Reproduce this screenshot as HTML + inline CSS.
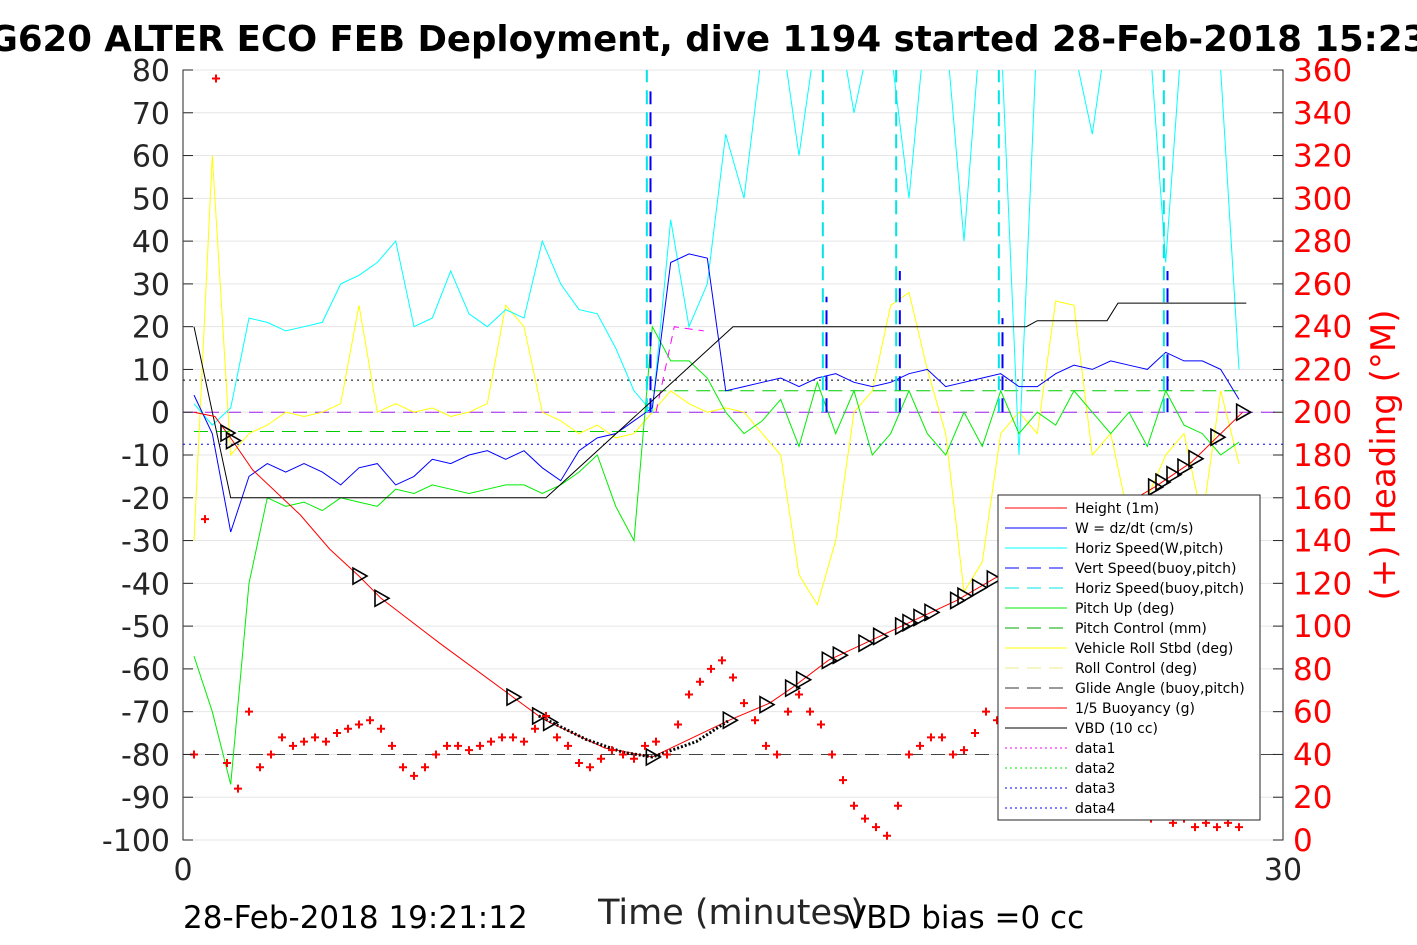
<!DOCTYPE html>
<html><head><meta charset="utf-8">
<style>
body{margin:0;background:#fff;width:1417px;height:945px;overflow:hidden;font-family:"DejaVu Sans","Liberation Sans",sans-serif;}
svg{display:block}
</style></head>
<body>
<svg id="chart" width="1417" height="945" xmlns="http://www.w3.org/2000/svg">
<defs><clipPath id="plotclip"><rect x="183" y="70" width="1100" height="770"/></clipPath></defs>
<text x="708" y="51" text-anchor="middle" font-size="35.5" font-weight="bold" fill="#000">G620 ALTER ECO FEB Deployment, dive 1194 started 28-Feb-2018 15:23</text>
<rect x="183" y="70" width="1100" height="770" fill="#fff" stroke="#262626" stroke-width="1"/>
<g id="grid"></g>
<g id="series" clip-path="url(#plotclip)"></g>
<g id="axes"></g>
<text x="731" y="924" text-anchor="middle" font-size="35" fill="#262626">Time (minutes)</text>
<text x="183" y="928" font-size="31" fill="#000">28-Feb-2018 19:21:12</text>
<text x="845" y="928" font-size="31" fill="#000">VBD bias =0 cc</text>
<text transform="translate(1395,455) rotate(-90)" text-anchor="middle" font-size="34" fill="#ff0000">(+) Heading (°M)</text>
<g id="legend"></g>
</svg>
<script>
// ---- data ----
const leftTicks=[80,70,60,50,40,30,20,10,0,-10,-20,-30,-40,-50,-60,-70,-80,-90,-100];
const rightTicks=[360,340,320,300,280,260,240,220,200,180,160,140,120,100,80,60,40,20,0];
const xTicks=[0,30];
const heightT=[0.3,0.87,1.34,1.9,3.2,4.0,4.8,5.4,7.0,9.0,9.7,10.0,11.5,12.8,14.9,16.0,16.6,17.6,18.6,19.6,21.1,22.1,24.0,26.5,27.5,28.9];
const heightV=[0,-1,-6.5,-13.5,-24,-32,-38.3,-43.5,-54,-66.6,-71,-72.5,-78.5,-80.6,-72,-68,-64.5,-58,-54,-50,-44,-39,-30,-17.5,-11.7,0];
const markT=[1.2,1.35,4.8,5.4,9.0,9.7,10.0,12.8,14.9,15.9,16.6,16.9,17.6,17.9,18.6,19.0,19.6,19.8,20.1,20.4,21.1,21.3,21.7,22.1,26.5,26.7,27.0,27.3,27.6,28.2,28.9];
const gridT=[0.3,0.8,1.3,1.8,2.3,2.8,3.3,3.8,4.3,4.8,5.3,5.8,6.3,6.8,7.3,7.8,8.3,8.8,9.3,9.8,10.3,10.8,11.3,11.8,12.3,12.8,13.3,13.8,14.3,14.8,15.3,15.8,16.3,16.8,17.3,17.8,18.3,18.8,19.3,19.8,20.3,20.8,21.3,21.8,22.3,22.8,23.3,23.8,24.3,24.8,25.3,25.8,26.3,26.8,27.3,27.8,28.3,28.8];
const wV=[4,-5,-28,-15,-12,-14,-12,-14,-17,-13,-12,-17,-15,-11,-12,-10,-9,-11,-9,-13,-16,-9,-6,-5,-2,1,35,37,36,5,6,7,8,6,8,9,7,6,7,9,10,6,7,8,9,6,6,9,11,10,12,11,10,14,12,12,10,3];
const hsV=[2,-3,1,22,21,19,20,21,30,32,35,40,20,22,33,23,20,24,22,40,30,24,23,15,5,0,45,20,30,65,50,85,90,60,90,95,70,90,85,50,95,90,40,95,90,-10,90,95,85,65,95,90,95,35,95,90,80,10];
const pitchV=[-57,-70,-87,-40,-20,-22,-21,-23,-20,-21,-22,-18,-19,-17,-18,-19,-18,-17,-17,-19,-17,-14,-10,-22,-30,20,12,12,8,0,-5,-2,3,-8,7,-5,5,-10,-5,5,-5,-10,0,-8,5,-5,0,-3,5,0,-5,0,-8,5,-3,-5,-10,-7];
const rollV=[-30,60,-10,-5,-3,0,-1,0,2,25,0,2,0,1,-1,0,2,25,20,0,-2,-5,-3,-6,-5,0,5,2,0,1,0,-5,-10,-38,-45,-30,0,5,25,28,10,-5,-42,-35,-5,0,-5,26,25,-10,-5,-25,-20,-10,-5,-25,5,-12];
const vbdT=[0.3,1.3,9.9,15.0,20.7,21.0,23.0,23.3,25.2,25.5,29.0];
const vbdV=[20,-20,-20,20,20,20,20,21.4,21.4,25.5,25.5];
const buoyT=[0.3,0.6,0.9,1.2,1.5,1.8,2.1,2.4,2.7,3.0,3.3,3.6,3.9,4.2,4.5,4.8,5.1,5.4,5.7,6.0,6.3,6.6,6.9,7.2,7.5,7.8,8.1,8.4,8.7,9.0,9.3,9.6,9.9,10.2,10.5,10.8,11.1,11.4,11.7,12.0,12.3,12.6,12.9,13.2,13.5,13.8,14.1,14.4,14.7,15.0,15.3,15.6,15.9,16.2,16.5,16.8,17.1,17.4,17.7,18.0,18.3,18.6,18.9,19.2,19.5,19.8,20.1,20.4,20.7,21.0,21.3,21.6,21.9,22.2,22.5,22.8,23.1,23.4,23.7,24.0,24.3,24.6,24.9,25.2,25.5,25.8,26.1,26.4,26.7,27.0,27.3,27.6,27.9,28.2,28.5,28.8];
const buoyV=[-80,-25,78,-82,-88,-70,-83,-80,-76,-78,-77,-76,-77,-75,-74,-73,-72,-74,-78,-83,-85,-83,-80,-78,-78,-79,-78,-77,-76,-76,-77,-74,-71,-76,-78,-82,-83,-81,-79,-80,-81,-78,-77,-80,-73,-66,-63,-60,-58,-62,-68,-72,-78,-80,-70,-66,-70,-73,-80,-86,-92,-95,-97,-99,-92,-80,-78,-76,-76,-80,-79,-75,-70,-72,-78,-86,-88,-80,-75,-77,-80,-82,-85,-88,-90,-92,-94,-95,-93,-96,-95,-97,-96,-97,-96,-97];
const spikeT=[12.75,17.55,19.55,22.35,26.85];
const spikeTop=[75,27,33,22,33];
const hSpikeT=[12.65,17.45,19.45,22.25,26.75];

// ---- scales ----
const X=t=>183+t*1100/30;
const Y=v=>840-(v+100)*770/180;
const YR=h=>840-h*770/360;
const NS="http://www.w3.org/2000/svg";
function mk(tag,parent,attrs){const e=document.createElementNS(NS,tag);for(const k in attrs)e.setAttribute(k,attrs[k]);parent.appendChild(e);return e;}
const grid=document.getElementById('grid'),ser=document.getElementById('series'),axes=document.getElementById('axes'),leg=document.getElementById('legend');

leftTicks.forEach(v=>{
  const g=mk('line',grid,{x1:183,x2:1283,y1:Y(v),y2:Y(v),stroke:'#e6e6e6','stroke-width':1});
  
  
  const t=mk('text',axes,{x:170,y:Y(v)+11,'text-anchor':'end','font-size':30,fill:'#262626'});
  t.textContent=v;
  
  
  mk('line',axes,{x1:183,x2:193,y1:Y(v),y2:Y(v),stroke:'#262626'});
});
rightTicks.forEach(h=>{
  const t=mk('text',axes,{x:1293,y:YR(h)+11,'font-size':31,fill:'#ff0000'});
  t.textContent=h;
  
  
  mk('line',axes,{x1:1273,x2:1283,y1:YR(h),y2:YR(h),stroke:'#262626'});
});
xTicks.forEach(v=>{
  const t=mk('text',axes,{x:X(v),y:880,'text-anchor':'middle','font-size':30,fill:'#262626'});
  t.textContent=v;
  
  
});

function line(ts,vs,color,name,extra){
  const d=ts.map((t,i)=>(i?'L':'M')+X(t).toFixed(1)+' '+Y(vs[i]).toFixed(1)).join(' ');
  const p=mk('path',ser,Object.assign({d:d,fill:'none',stroke:color,'stroke-width':1},extra||{}));
  
  
  return p;
}
function hline(v,color,dash,name){
  const l=mk('line',ser,{x1:183,x2:1283,y1:Y(v),y2:Y(v),stroke:color,'stroke-width':1,'stroke-dasharray':dash});
  
  
}
hline(7.5,'#000','2,4','data1-line');
hline(-7.5,'#0000ff','2,4','data3-line');
hline(-80,'#444','14,8','glide-reference-line');
hline(0,'#a020f0','14,8','roll-control-line');
line([0.3,12.8],[-4.5,-4.5],'#00cc00','pitch-control-early',{'stroke-dasharray':'14,8'});
line([12.8,29],[5,5],'#00cc00','pitch-control-late',{'stroke-dasharray':'14,8'});
line(gridT,rollV,'#ffff00','vehicle-roll-line');
line(gridT,hsV,'#00ffff','horiz-speed-line');
line(gridT,pitchV,'#00ee00','pitch-up-line');
line(gridT,wV,'#0000ff','w-line');
line([12.9,13.4,14.2],[0,20,19],'#ff00ff','glide-bump',{'stroke-dasharray':'8,6'});
spikeT.forEach((t,i)=>{
  const l=mk('line',ser,{x1:X(t),x2:X(t),y1:Y(0),y2:Y(spikeTop[i]),stroke:'#0000ff','stroke-width':2,'stroke-dasharray':'14,8'});
  
  
});
hSpikeT.forEach(t=>{
  const l=mk('line',ser,{x1:X(t),x2:X(t),y1:Y(0),y2:Y(80),stroke:'#00e5e5','stroke-width':2,'stroke-dasharray':'14,8'});
  
  
});
line(vbdT,vbdV,'#000','vbd-line');
line(heightT,heightV,'#ff0000','height-line');
line([9.7,11,12,12.8,14,14.9],[-71,-76.5,-79.5,-80.6,-77,-72],'#000','dive-bottom-dots',{'stroke-dasharray':'2,2','stroke-width':3});
function interp(t){for(let i=1;i<heightT.length;i++){if(t<=heightT[i]){const f=(t-heightT[i-1])/(heightT[i]-heightT[i-1]);return heightV[i-1]+f*(heightV[i]-heightV[i-1]);}}return 0;}
markT.forEach(t=>{
  const x=X(t),y=Y(interp(t));
  const p=mk('path',ser,{d:`M${x-6} ${y-8} L${x+8} ${y} L${x-6} ${y+8} Z`,fill:'none',stroke:'#000','stroke-width':1.6});
  
  
});
buoyT.forEach((t,i)=>{
  const x=X(t),y=Y(buoyV[i]);
  const p=mk('path',ser,{d:`M${x-4} ${y} H${x+4} M${x} ${y-4} V${y+4}`,stroke:'#ff0000','stroke-width':2});
  
  
});

// legend
const legItems=[['Height (1m)','#ff0000',''],['W = dz/dt (cm/s)','#0000ff',''],['Horiz Speed(W,pitch)','#00ffff',''],['Vert Speed(buoy,pitch)','#0000ff','14,8'],['Horiz Speed(buoy,pitch)','#00e5e5','14,8'],['Pitch Up (deg)','#00ee00',''],['Pitch Control (mm)','#00aa00','14,8'],['Vehicle Roll Stbd (deg)','#ffff00',''],['Roll Control (deg)','#eeee88','14,8'],['Glide Angle (buoy,pitch)','#333','14,8'],['1/5 Buoyancy (g)','#ff0000',''],['VBD (10 cc)','#000',''],['data1','#ff00ff','2,3'],['data2','#00ee00','2,3'],['data3','#0000ff','2,3'],['data4','#0000ff','2,3']];
const lb=mk('rect',leg,{x:998,y:495,width:262,height:325,fill:'#fff',stroke:'#262626'});


legItems.forEach((it,i)=>{
  const y=508+i*20;
  mk('line',leg,{x1:1005,x2:1067,y1:y,y2:y,stroke:it[1],'stroke-dasharray':it[2]});
  const t=mk('text',leg,{x:1075,y:y+5,'font-size':14,fill:'#000'});
  t.textContent=it[0];
  
  
});
</script>
</body></html>
